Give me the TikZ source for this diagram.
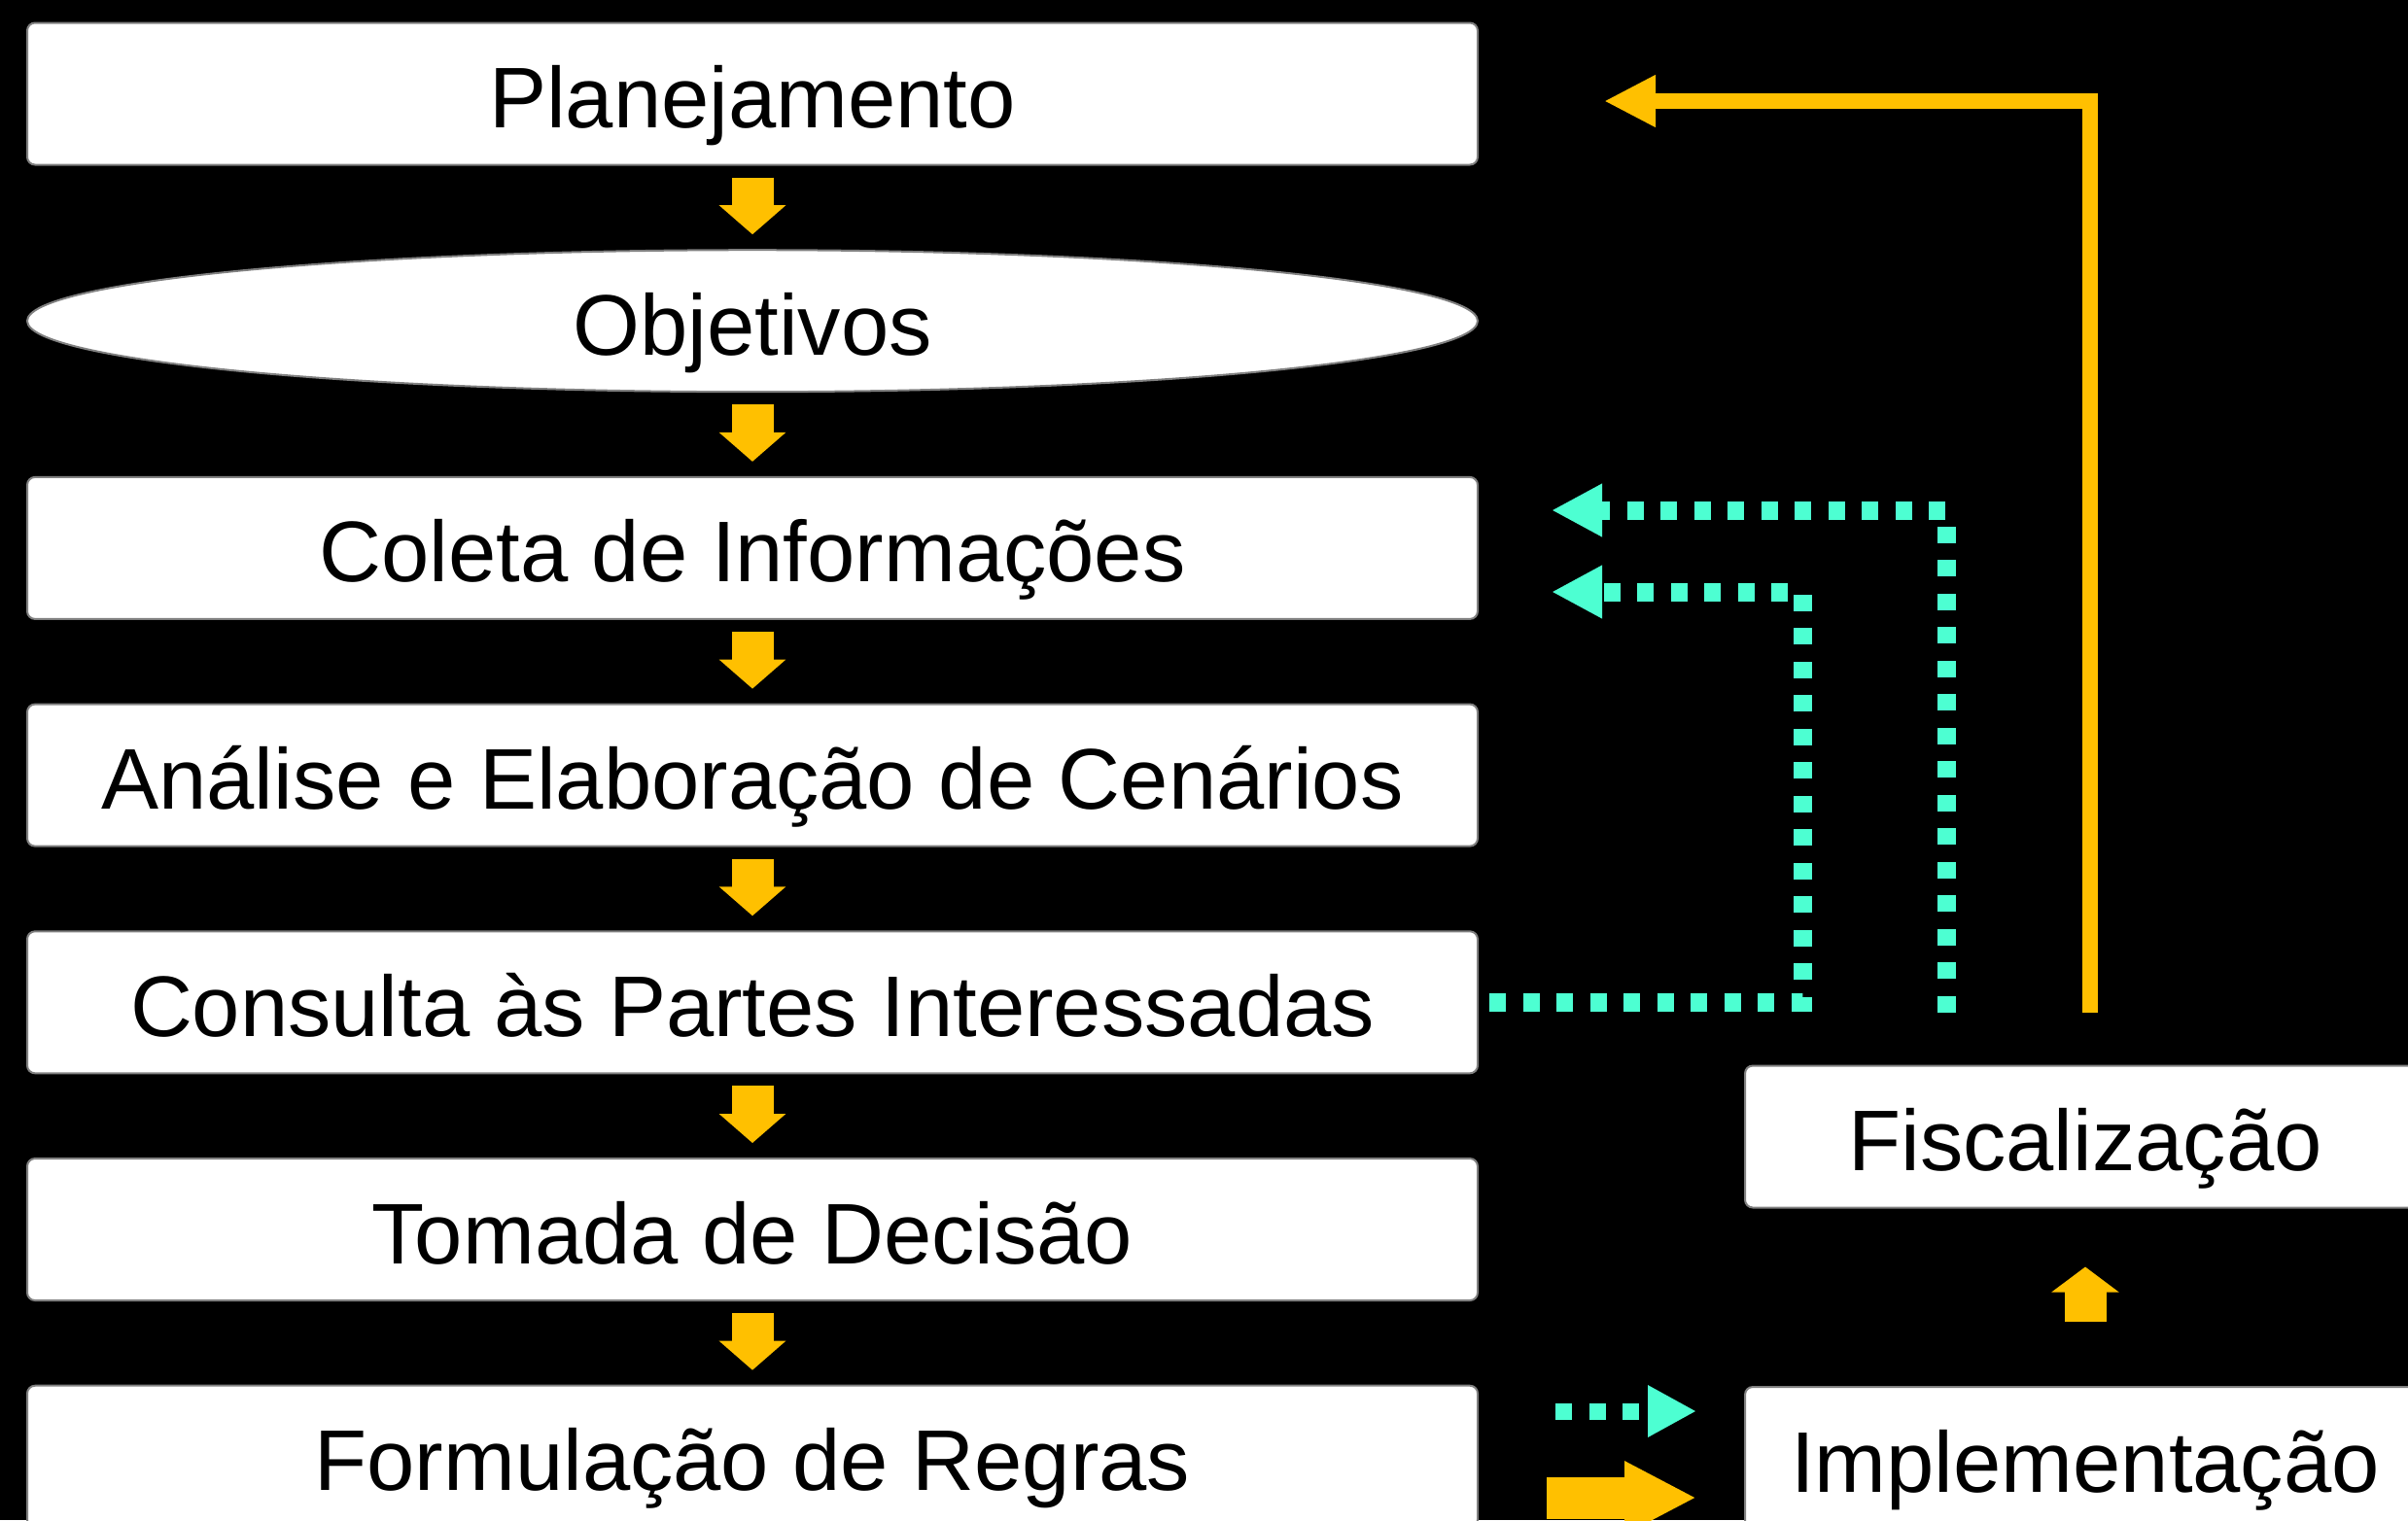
\documentclass[tikz,border=0pt]{standalone}
\usepackage{fontspec}
\setmainfont{Liberation Sans}
\usetikzlibrary{positioning,shapes.geometric,arrows.meta}
\definecolor{flowyellow}{RGB}{255,192,0}
\definecolor{revisitcyan}{RGB}{77,255,210}
\begin{document}
\begin{tikzpicture}[
  stage/.style={draw=gray, line width=0.02cm, fill=white, rounded corners=0.08cm,
    minimum width=14.92cm, minimum height=1.46cm, inner sep=0pt, outer sep=0pt,
    text height=0.7cm, text depth=0cm,
    font=\fontsize{25.2}{30}\selectfont},
  goal/.style={stage, ellipse, sharp corners},
  sidestage/.style={stage, minimum width=7cm},
  flow/.style={flowyellow, line width=0.43cm, -{Triangle[length=0.3cm,width=0.67cm]},
    shorten <=0.13cm, shorten >=0.16cm},
  revisit/.style={revisitcyan, line width=0.19cm, dash pattern=on 0.17cm off 0.175cm,
    -{Triangle[length=0.52cm,width=0.51cm]}},
  node distance=0.877cm
]
\fill[black] (0,0) rectangle (24.77,-15.64);
\clip (0,0) rectangle (24.77,-15.64);

% main sequence
\node[stage] (plan) at (7.74,-0.965) {Planejamento};
\node[goal, below=of plan] (obj) {Objetivos};
\node[stage, below=of obj] (col) {Coleta de Informações};
\node[stage, below=of col] (ana) {Análise e Elaboração de Cenários};
\node[stage, below=of ana] (cons) {Consulta às Partes Interessadas};
\node[stage, below=of cons] (tom) {Tomada de Decisão};
\node[stage, below=of tom] (form) {Formulação de Regras};

\foreach \a/\b in {plan/obj, obj/col, col/ana, ana/cons, cons/tom, tom/form}
  \draw[flow] (\a.south) -- (\b.north);

% right column
\node[sidestage] (fisc) at (21.45,-11.695) {Fiscalização};
\node[sidestage] (impl) at (21.45,-15.0) {Implementação};
\draw[flow, shorten <=0.67cm, shorten >=0.61cm,
  -{Triangle[length=0.26cm,width=0.68cm]}] (impl.north) -- (fisc.south);

% feedback paths
\coordinate (plantip) at (16.50,-1.04);
\coordinate (colup) at (15.96,-5.25);
\coordinate (collow) at (15.96,-6.09);
\coordinate (lowturn) at (18.54,-6.09);
\draw[flowyellow, line width=0.16cm, miter limit=4,
  -{Triangle[length=0.53cm,width=0.5cm]}, shorten <=0.55cm]
  ([xshift=0.05cm]fisc.north) |- (plantip);
\draw[revisit, shorten <=0.55cm] ([xshift=-1.43cm]fisc.north) |- (colup);
\draw[revisit, shorten <=0.12cm] (cons.east) -| (lowturn) -- (collow);

% key arrows
\coordinate (keydotA) at (16.00,-14.52);
\coordinate (keydotB) at (17.45,-14.52);
\coordinate (keyflowA) at (15.91,-15.41);
\coordinate (keyflowB) at (17.45,-15.41);
\draw[revisit, line width=0.17cm, -{Triangle[length=0.5cm,width=0.5cm]}] (keydotA) -- (keydotB);
\draw[flowyellow, line width=0.43cm, -{Triangle[length=0.74cm,width=0.7cm]}] (keyflowA) -- (keyflowB);
\end{tikzpicture}
\end{document}
